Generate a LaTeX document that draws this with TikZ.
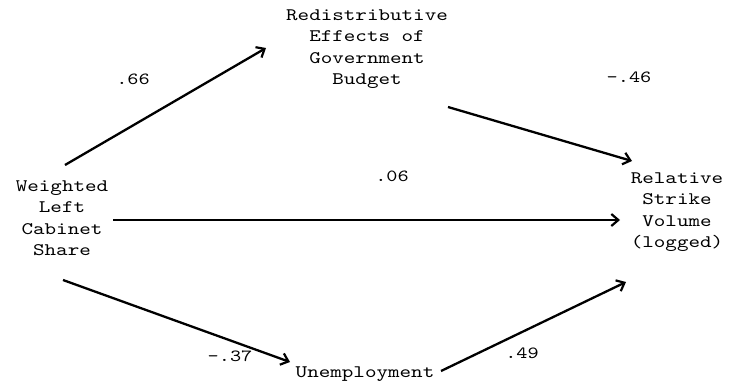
\documentclass[tikz,border=0pt]{standalone}
\usepackage{fontspec}
\usetikzlibrary{arrows.meta}
\newfontfamily\twfont[FakeStretch=1.25]{lmmono10-regular.otf}
\begin{document}
\begin{tikzpicture}[x=1pt,y=-1pt,
  lbl/.style={font=\twfont\fontsize{17.6}{21.5}\selectfont, align=center, inner sep=0pt},
  coef/.style={font=\twfont\fontsize{17}{21}\selectfont, inner sep=0pt},
  path/.style={line width=2.3pt, -{Straight Barb[length=7pt,width=12pt,line width=2.2pt]}}]
\useasboundingbox[fill=white] (0,0) rectangle (733,386);
\node[lbl] (wl) at (62,218) {Weighted\\Left\\Cabinet\\Share};
\node[lbl] (rd) at (367,49) {Redistributive\\Effects of\\Government\\Budget};
\node[lbl] (rs) at (677,212) {Relative\\Strike\\Volume\\(logged)};
\node[lbl] (un) at (365,374) {Unemployment};
\coordinate (a1) at (65,165);
\coordinate (a2) at (266,48);
\coordinate (b1) at (448,107);
\coordinate (b2) at (632,161);
\coordinate (c1) at (113,220);
\coordinate (c2) at (620,220);
\coordinate (d1) at (63,280);
\coordinate (d2) at (290,362);
\coordinate (e1) at (441,371);
\coordinate (e2) at (626,282);
\draw[path] (a1) -- (a2);
\draw[path] (b1) -- (b2);
\draw[path] (c1) -- (c2);
\draw[path] (d1) -- (d2);
\draw[path] (e1) -- (e2);
\node[coef] (k1) at (133,79) {.66};
\node[coef] (k2) at (629,77) {-.46};
\node[coef] (k3) at (392,176) {.06};
\node[coef] (k4) at (230,356) {-.37};
\node[coef] (k5) at (522,353) {.49};
\end{tikzpicture}
\end{document}
